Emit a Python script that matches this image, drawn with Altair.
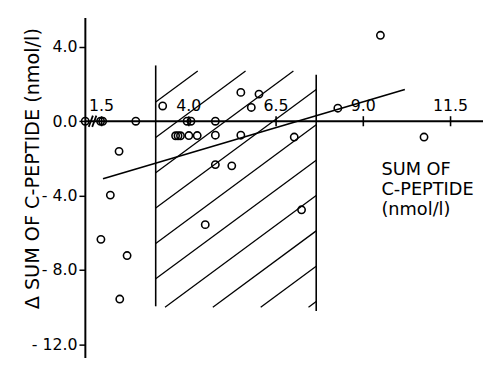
import altair as alt
import pandas as pd
import numpy as np

# ---- data ----
PT_X = [1.03, 1.47, 1.53, 2.48, 3.25, 2.00, 1.75, 1.48, 2.23, 2.02,
        3.95, 4.06, 3.62, 3.69, 3.76, 4.00, 4.24,
        4.76, 4.76, 5.49, 5.49, 6.01, 5.79, 4.76, 5.23, 4.47,
        7.02, 7.23, 8.27, 9.49, 10.74]
PT_Y = [0.0, 0.0, 0.0, 0.0, 0.82, -1.62, -3.97, -6.35, -7.22, -9.56,
        0.0, 0.0, -0.78, -0.78, -0.78, -0.77, -0.77,
        0.0, -0.75, -0.75, 1.55, 1.46, 0.74, -2.33, -2.40, -5.56,
        -0.85, -4.76, 0.70, 4.62, -0.85]

REG_X = [1.54, 10.19]
REG_Y = [-3.09, 1.71]

X_TICKS = [1.5, 4.0, 6.5, 9.0, 11.5]
Y_TICKS = [4.0, 0.0, -4.0, -8.0, -12.0]

# axis break marks ("//") on the x axis
BREAK_X = [1.19, 1.29]

# hatched band (region bounds)
BAND_X = [3.05, 7.65]
BAND_Y = [-10.0, 2.7]
EDGE_TOP = [3.0, 2.5]
EDGE_BOT = [-9.95, -10.2]
HATCH_SLOPE = 1.386
HATCH_STEP = 1.9
HATCH_PHASE = -4.67

X_DOM = [1.02, 12.43]
Y_DOM = [-12.7, 5.58]

FONT = "DejaVu Sans"

xs = alt.Scale(domain=X_DOM, nice=False, zero=False)
ys = alt.Scale(domain=Y_DOM, nice=False, zero=False)

# hatch segments clipped to the band
segs = []
x0, x1 = BAND_X
ylo, yhi = BAND_Y
for k in range(-10, 20):
    c = HATCH_PHASE + k * HATCH_STEP  # y at x0
    xa = max(x0, x0 + (ylo - c) / HATCH_SLOPE)
    xb = min(x1, x0 + (yhi - c) / HATCH_SLOPE)
    if xb > xa + 1e-6:
        segs.append({"x": xa, "y": c + HATCH_SLOPE * (xa - x0),
                     "x2": xb, "y2": c + HATCH_SLOPE * (xb - x0)})
hatch_df = pd.DataFrame(segs)

edges_df = pd.DataFrame({"x": BAND_X, "y": EDGE_BOT, "y2": EDGE_TOP})
pts_df = pd.DataFrame({"x": PT_X, "y": PT_Y})
reg_df = pd.DataFrame({"x": REG_X, "y": REG_Y})
xt_df = pd.DataFrame({"x": X_TICKS, "label": [f"{v:.1f}" for v in X_TICKS]})
axis_df = pd.DataFrame({"x": [X_DOM[0]], "x2": [X_DOM[1]], "y": [0.0]})
ytick_df = pd.DataFrame({"y": Y_TICKS})
brk_df = pd.DataFrame({"x": [b - 0.06 for b in BREAK_X], "x2": [b + 0.06 for b in BREAK_X],
                       "y": [-0.3] * len(BREAK_X), "y2": [0.3] * len(BREAK_X)})

hatch = alt.Chart(hatch_df).mark_rule(color="black", strokeWidth=1.3).encode(
    x=alt.X("x:Q", scale=xs, axis=None),
    y=alt.Y("y:Q", scale=ys),
    x2="x2:Q", y2="y2:Q")

edges = alt.Chart(edges_df).mark_rule(color="black", strokeWidth=1.6).encode(
    x=alt.X("x:Q", scale=xs, axis=None),
    y=alt.Y("y:Q", scale=ys),
    y2="y2:Q")

yaxis_layer = alt.Chart(ytick_df).mark_point(opacity=0).encode(
    x=alt.value(0),
    y=alt.Y("y:Q", scale=ys, axis=alt.Axis(
        values=Y_TICKS,
        labelExpr="datum.value < 0 ? '- ' + format(abs(datum.value), '.1f') : format(datum.value, '.1f')",
        grid=False, tickSize=6, tickWidth=1.5, tickColor="black",
        domainColor="black", domainWidth=2,
        labelFont=FONT, labelFontSize=16, labelColor="black", labelPadding=2,
        title="Δ SUM OF C-PEPTIDE (nmol/l)",
        titleFont=FONT, titleFontSize=19.5, titleFontWeight="normal", titleColor="black",
        titleAngle=270, titleX=-53, titleY=153, titleAlign="center", titleBaseline="middle")))

xaxis_line = alt.Chart(axis_df).mark_rule(color="black", strokeWidth=2).encode(
    x=alt.X("x:Q", scale=xs, axis=None), x2="x2:Q",
    y=alt.Y("y:Q", scale=ys))

xticks = alt.Chart(xt_df).mark_rule(color="black", strokeWidth=1.6).encode(
    x=alt.X("x:Q", scale=xs, axis=None),
    y=alt.datum(-0.27), y2=alt.datum(0.27))

xlabels = alt.Chart(xt_df).mark_text(font=FONT, fontSize=16, color="black",
                                     align="center", baseline="alphabetic", dy=-10).encode(
    x=alt.X("x:Q", scale=xs, axis=None),
    y=alt.datum(0.0), text="label:N")

brk = alt.Chart(brk_df).mark_rule(color="black", strokeWidth=1.8).encode(
    x=alt.X("x:Q", scale=xs, axis=None), x2="x2:Q",
    y=alt.Y("y:Q", scale=ys), y2="y2:Q")

reg = alt.Chart(reg_df).mark_line(color="black", strokeWidth=1.7).encode(
    x=alt.X("x:Q", scale=xs, axis=None), y=alt.Y("y:Q", scale=ys))

pts = alt.Chart(pts_df).mark_point(shape="circle", filled=False, size=55,
                                   strokeWidth=1.6, color="black", opacity=1).encode(
    x=alt.X("x:Q", scale=xs, axis=None), y=alt.Y("y:Q", scale=ys))

xtitle = alt.Chart(pd.DataFrame({"x": [9.52], "y": [-2.9]})).mark_text(
    font=FONT, fontSize=18, color="black", align="left", baseline="alphabetic",
    lineHeight=20).encode(
    x=alt.X("x:Q", scale=xs, axis=None), y=alt.Y("y:Q", scale=ys),
    text=alt.value(["SUM OF", "C-PEPTIDE", "(nmol/l)"]))

chart = alt.layer(hatch, edges, yaxis_layer, xaxis_line, xticks, xlabels, brk, reg, pts, xtitle).properties(
    width=404, height=345,
    padding={"left": 78, "top": 7, "right": 0, "bottom": 0},
    autosize=alt.AutoSizeParams(type="none"),
    background="white",
).configure_view(stroke=None)

chart.save("out.html", embed_options={"renderer": "svg", "actions": False})
